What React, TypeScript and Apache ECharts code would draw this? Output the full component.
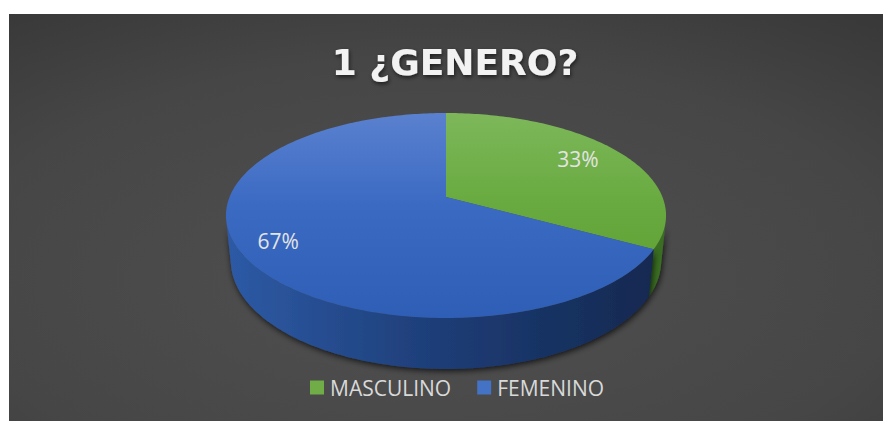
import React, { useEffect, useRef } from "react";
import * as echarts from "echarts";

const titleText = "1 ¿GENERO?";
const categories = ["MASCULINO", "FEMENINO"];
const values = [33, 67];
const legendColors = ["#70ad47", "#4472c4"];
const topColors = [
  ["#7db75a", "#68aa3f", "#5d9c32"],
  ["#5a81cf", "#3b6ac3", "#2e5eb6"],
];
const sideColors = [
  ["#2f5c1c", "#2b561a", "#3a6e24"],
  ["#2d5aa5", "#1d3c75", "#13284f"],
];

// projection geometry (chart pixel space)
const CX = 437;
const CY = 183;
const F = 1067;
const L = 4.93;
const SA = 0.458;
const CA = 0.889;
const T = 0.237;
const LABEL_R = 0.8;
const LABEL_DX = -7;

function project(deg: number, r: number, h: number): number[] {
  const a = (deg * Math.PI) / 180;
  const X = r * Math.sin(a);
  const D = r * Math.cos(a);
  const z = L + D * CA - h * SA;
  const v = h * CA + D * SA;
  return [CX + (F * X) / z, CY - (F * v) / z];
}

function arc(a0: number, a1: number, h: number): number[][] {
  const pts: number[][] = [];
  const n = Math.max(2, Math.ceil(Math.abs(a1 - a0)));
  for (let i = 0; i <= n; i++) pts.push(project(a0 + ((a1 - a0) * i) / n, 1, h));
  return pts;
}

export default function App() {
  const ref = useRef<HTMLDivElement>(null);
  useEffect(() => {
    const chart = echarts.init(ref.current!, null, { renderer: "svg" });
    const total = values.reduce((s, v) => s + v, 0);
    const starts: number[] = [];
    let acc = 0;
    values.forEach((v) => {
      starts.push(acc);
      acc += v;
    });
    const vis0 = (Math.acos(-1 / (L * CA)) * 180) / Math.PI;
    const vis1 = 360 - vis0;
    const topY0 = project(0, 1, 0)[1];
    const topY1 = project(180, 1, 0)[1];
    const sideX0 = project(270, 1, 0)[0];
    const sideX1 = project(90, 1, 0)[0];

    const series = categories.map((name, k) => ({
      type: "custom",
      name,
      coordinateSystem: "none",
      itemStyle: { color: legendColors[k] },
      data: [[starts[k] / total, (starts[k] + values[k]) / total, values[k]]],
      renderItem: (params: any, api: any) => {
        const a0 = api.value(0) * 360;
        const a1 = api.value(1) * 360;
        const children: any[] = [];
        const s0 = Math.max(a0, vis0);
        const s1 = Math.min(a1, vis1);
        if (s1 > s0) {
          const pts = arc(s0, s1, 0).concat(arc(s1, s0, -T));
          children.push({
            type: "polygon",
            z2: 1,
            shape: { points: pts },
            style: {
              fill: new echarts.graphic.LinearGradient(
                sideX0, 0, sideX1, 0,
                [
                  { offset: 0, color: sideColors[k][0] },
                  { offset: 0.5, color: sideColors[k][1] },
                  { offset: 1, color: sideColors[k][2] },
                ],
                true
              ),
              shadowBlur: 6,
              shadowColor: "rgba(0,0,0,0.75)",
              shadowOffsetX: 1,
              shadowOffsetY: 2,
            },
          });
        }
        const topPts = [project(0, 0, 0)].concat(arc(a0, a1, 0));
        children.push({
          type: "polygon",
          z2: 10,
          shape: { points: topPts },
          style: {
            fill: new echarts.graphic.LinearGradient(
              0, topY0, 0, topY1,
              [
                { offset: 0, color: topColors[k][0] },
                { offset: 0.45, color: topColors[k][1] },
                { offset: 1, color: topColors[k][2] },
              ],
              true
            ),
          },
        });
        const mid = (a0 + a1) / 2;
        const lp = project(mid, LABEL_R, 0);
        children.push({
          type: "text",
          z2: 20,
          x: lp[0] + LABEL_DX,
          y: lp[1],
          style: {
            text: Math.round((api.value(2) / total) * 100) + "%",
            fill: "#e4e4e4",
            font: "21px 'Open Sans'",
            align: "center",
            verticalAlign: "middle",
          },
        });
        return { type: "group", children };
      },
    }));

    chart.setOption({
      animation: false,
      backgroundColor: new echarts.graphic.RadialGradient(0.48, 0.65, 1.2, [
        { offset: 0, color: "#505050" },
        { offset: 0.45, color: "#464646" },
        { offset: 1, color: "#262626" },
      ]),
      legend: {
        data: categories,
        left: 301,
        top: 363,
        padding: 0,
        icon: "rect",
        itemWidth: 14,
        itemHeight: 14,
        itemGap: 26,
        textStyle: { color: "#d9d9d9", fontSize: 21, fontFamily: "Open Sans", padding: [0, 0, 0, 1] },
      },
      graphic: [
        {
          type: "text",
          x: 446,
          y: 48,
          style: {
            text: titleText,
            fill: "#f2f2f2",
            font: "bold 36px 'DejaVu Sans'",
            align: "center",
            verticalAlign: "middle",
            textShadowBlur: 4,
            textShadowColor: "rgba(0,0,0,0.6)",
            textShadowOffsetX: 1,
            textShadowOffsetY: 2,
          },
        },
      ],
      series,
    });
    return () => chart.dispose();
  }, []);
  return (
    <div
      ref={ref}
      style={{ position: "absolute", left: 9, top: 14, width: 874, height: 407 }}
    />
  );
}
